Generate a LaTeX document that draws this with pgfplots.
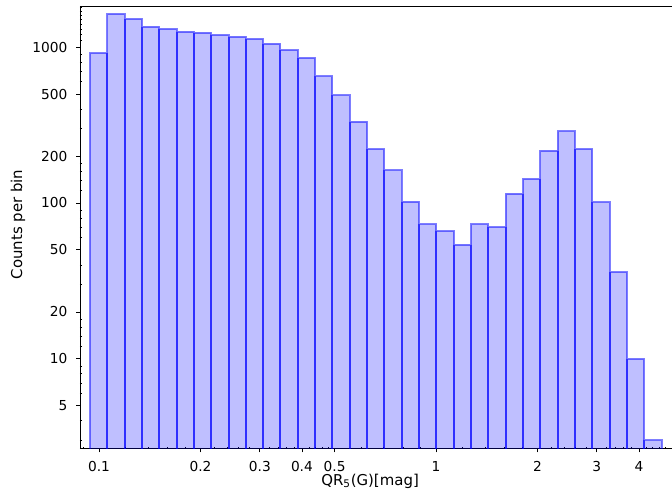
\documentclass[border=0pt]{standalone}
\usepackage{pgfplots}
\pgfplotsset{compat=1.18}
\usepackage{fontspec}
\setmainfont{DejaVu Sans}
\pgfplotstableread{
x y
0.09404 915
0.10585 1635
0.11914 1518
0.13410 1355
0.15094 1310
0.16989 1259
0.19123 1241
0.21524 1199
0.24227 1169
0.27269 1130
0.30693 1055
0.34547 957
0.38885 853
0.43768 649
0.49264 490
0.55450 333
0.62413 222
0.70250 162
0.79071 102
0.89000 73
1.00300 66
1.12894 54
1.27070 73
1.43026 70
1.60986 115
1.81201 143
2.03954 217
2.29564 288
2.58390 222
2.90836 101
3.27355 36
3.68461 10
4.14728 3
4.66804 3
}\histdata
% shared inner bin edges (height = lower of the two adjacent bins)
\pgfplotstableread{
x y
0.10585 915
0.11914 1518
0.13410 1355
0.15094 1310
0.16989 1259
0.19123 1241
0.21524 1199
0.24227 1169
0.27269 1130
0.30693 1055
0.34547 957
0.38885 853
0.43768 649
0.49264 490
0.55450 333
0.62413 222
0.70250 162
0.79071 102
0.89000 73
1.00300 66
1.12894 54
1.27070 54
1.43026 70
1.60986 70
1.81201 115
2.03954 143
2.29564 217
2.58390 222
2.90836 101
3.27355 36
3.68461 10
4.14728 3
}\edgedata
\begin{document}
\fontsize{10.3}{12}\selectfont
\begin{tikzpicture}
\begin{axis}[
  scale only axis, width=444pt, height=331.5pt,
  xmode=log, ymode=log,
  xmin=0.0878, xmax=5.015, ymin=2.65, ymax=1820,
  axis x line=box, axis y line=left,
  axis line style={-, line width=0.7pt, black},
  xtick pos=left, ytick pos=left,
  xtick={0.1,0.2,0.3,0.4,0.5,1,2,3,4},
  xticklabels={0.1,0.2,0.3,0.4,0.5,1,2,3,4},
  minor xtick={0.09,0.12,0.14,0.16,0.18,0.22,0.24,0.26,0.28,0.32,0.34,0.36,0.38,0.42,0.44,0.46,0.48,0.6,0.7,0.8,0.9,1.2,1.4,1.6,1.8,2.2,2.4,2.6,2.8,3.2,3.4,3.6,3.8,4.2,4.4,4.6,4.8},
  ytick={5,10,20,50,100,200,500,1000},
  yticklabels={5,10,20,50,100,200,500,1000},
  minor ytick={3,4,6,7,8,9,12,14,16,18,30,40,60,70,80,90,120,140,160,180,300,400,600,700,800,900,1100,1200,1300,1400,1500,1600,1700,1800},
  tick align=outside,
  major tick length=2.8pt, minor tick length=1.6pt,
  tick style={black, line width=0.6pt},
  minor x tick style={yshift=1.6pt},
  minor y tick style={xshift=1.6pt},
  /pgf/number format/assume math mode=true,
  ticklabel style={font=\fontsize{10.3}{12}\selectfont},
  xticklabel style={yshift=-3pt},
  yticklabel style={xshift=-3pt},
  label style={font=\fontsize{11.2}{13}\selectfont},
  xlabel={QR\textsubscript{5}(G)[mag]},
  ylabel={Counts per bin},
  xlabel style={at={(axis description cs:0.49,-0.0735)}, anchor=center},
  ylabel style={at={(axis description cs:-0.1047,0.507)}, anchor=center},
]
\addplot[ybar interval, fill=blue, fill opacity=0.25, draw=blue, draw opacity=0.5, line width=1.5pt] table[x=x,y=y] {\histdata};
\addplot[ycomb, no marks, draw=blue, draw opacity=0.5, line width=1.5pt] table[x=x,y=y] {\edgedata};
\coordinate (sw) at (rel axis cs:0,0);
\coordinate (ne) at (rel axis cs:1,1);
\end{axis}
\pgfresetboundingbox
\path ([xshift=-60pt,yshift=-38.25pt]sw) rectangle ([yshift=5pt]ne);
\end{tikzpicture}
\end{document}
